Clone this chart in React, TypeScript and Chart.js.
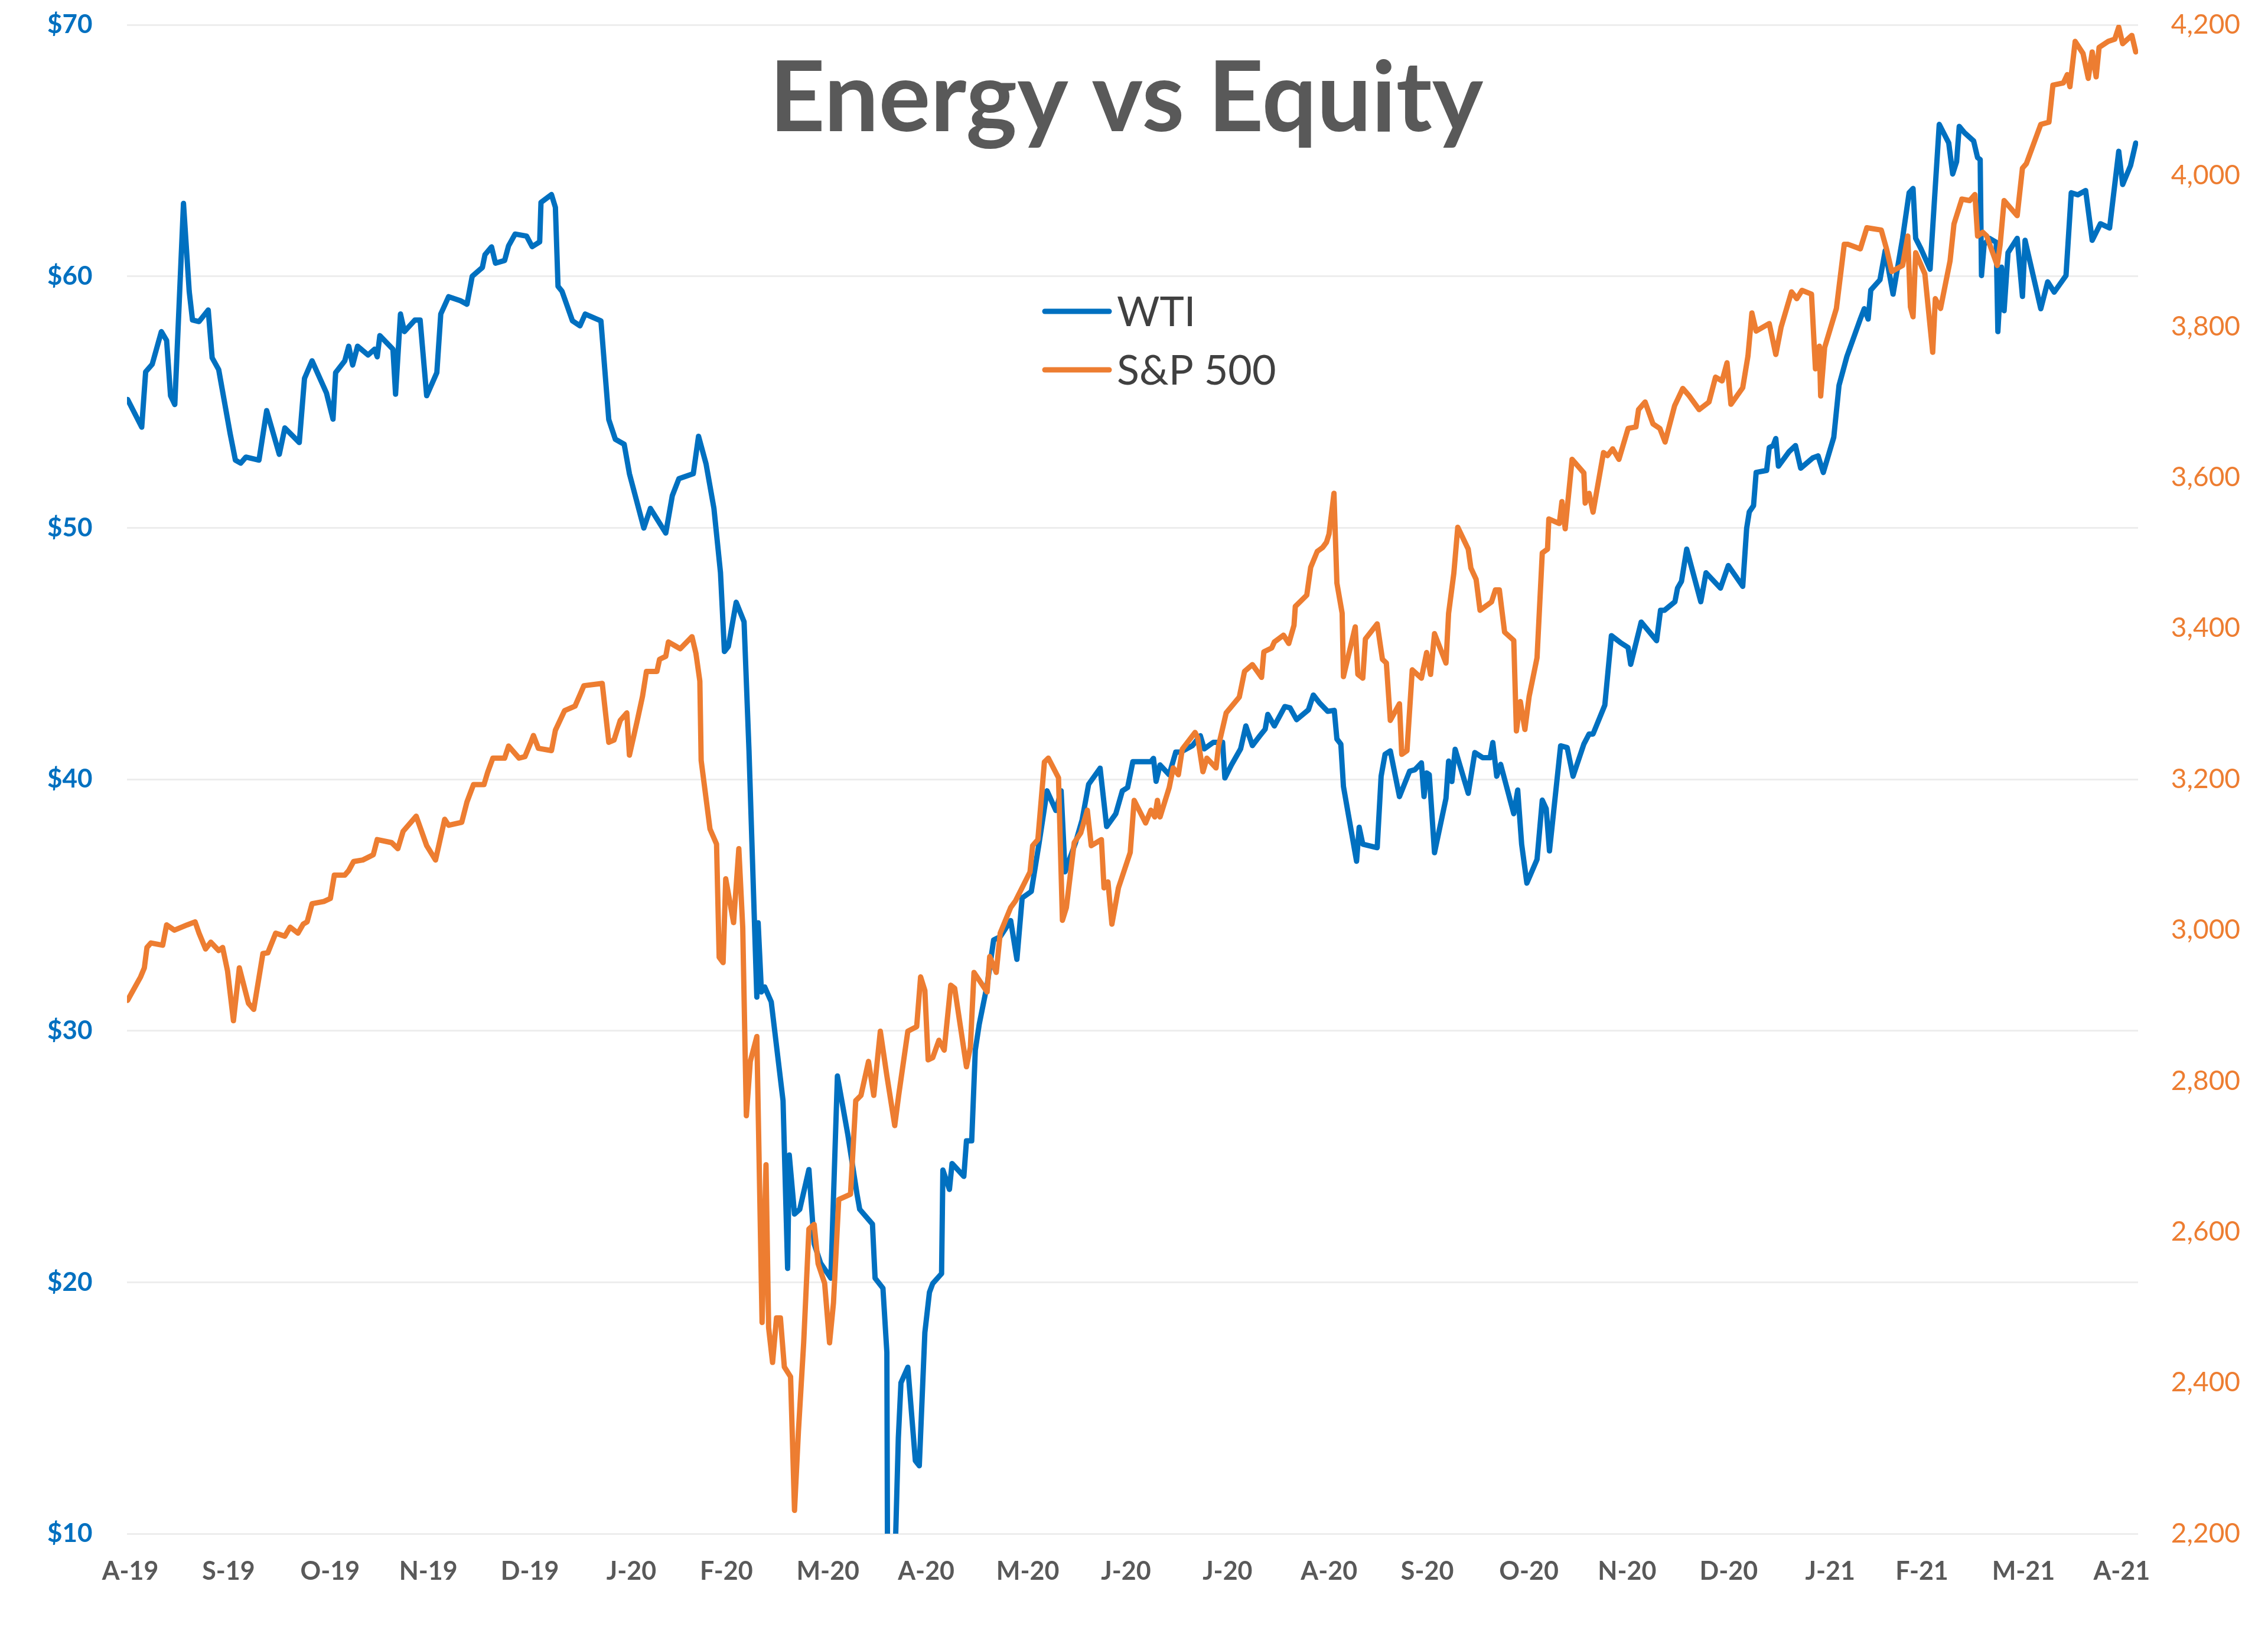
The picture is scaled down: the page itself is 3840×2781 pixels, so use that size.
import { useEffect, useRef } from "react";
import { Chart, registerables } from "chart.js";

Chart.register(...registerables);

// ---------- data ----------
const TITLE = "Energy vs Equity";
const SERIES_NAMES = ["WTI", "S&P 500"];

// x values are days counted from the "A-19" tick
const X_TICK_DAYS = [0, 30, 61, 91, 122, 153, 182, 213, 243, 274, 304, 335, 366, 396, 427, 457, 488, 519, 547, 578, 608];
const X_TICK_LABELS = ["A-19", "S-19", "O-19", "N-19", "D-19", "J-20", "F-20", "M-20", "A-20", "M-20", "J-20", "J-20", "A-20", "S-20", "O-20", "N-20", "D-20", "J-21", "F-21", "M-21", "A-21"];

const WTI_DAYS = [
  -0.8, 3.5, 4.7, 6.7, 9.5, 11.1, 12.3, 13.6, 16.25, 18.0, 19.0, 21.0, 23.8, 25.0, 27.0, 30.5, 32.1, 33.7, 35.3, 39.3,
  41.65, 45.5, 47.2, 51.6, 53.2, 55.5, 59.9, 61.9, 62.7, 65.5, 66.7, 67.9, 69.4, 72.6, 74.6, 75.4, 76.2, 80.2, 81.0, 82.5,
  83.7, 86.9, 88.5, 90.5, 93.6, 94.8, 97.2, 100.8, 102.8, 104.4, 107.5, 108.3, 110.3, 111.5, 114.3, 115.5, 117.5, 121.0, 122.7, 125.0,
  125.4, 128.6, 129.8, 130.6, 131.8, 135.0, 137.3, 138.9, 143.7, 146.1, 148.1, 150.8, 152.4, 156.8, 158.8, 163.5, 165.5, 167.5, 171.9, 173.5,
  175.8, 178.2, 180.2, 181.4, 182.6, 185.0, 187.4, 188.9, 191.3, 191.7, 192.7, 193.7, 195.7, 199.3, 200.7, 201.2, 202.8, 204.4, 207.2, 208.8,
  210.8, 213.9, 215.9, 219.1, 221.9, 222.7, 226.6, 227.4, 229.8, 231.0, 232.3, 233.7, 234.5, 235.3, 237.4, 239.7, 240.9, 242.6, 244.0, 245.0,
  247.7, 248.1, 250.1, 250.9, 254.5, 255.3, 256.9, 258.0, 259.2, 261.6, 263.6, 265.6, 268.8, 270.7, 272.3, 275.1, 277.5, 279.9, 282.6, 284.2,
  285.4, 288.6, 290.6, 292.6, 296.1, 298.1, 300.9, 302.9, 304.5, 306.1, 311.6, 312.4, 313.2, 314.4, 317.2, 319.2, 320.7, 324.3, 326.7, 327.9,
  330.7, 333.5, 334.2, 336.2, 339.0, 340.6, 342.6, 344.9, 346.5, 347.3, 349.3, 352.5, 354.1, 356.1, 359.7, 361.2, 363.2, 365.6, 367.6, 368.4,
  369.6, 370.4, 374.4, 375.2, 376.3, 380.7, 381.9, 383.1, 384.7, 387.5, 390.6, 392.2, 394.2, 395.0, 395.8, 396.6, 398.2, 401.7, 402.5, 403.5,
  404.5, 408.5, 410.5, 412.9, 415.2, 416.0, 417.2, 418.4, 422.4, 423.6, 424.8, 426.4, 429.5, 431.1, 432.3, 433.3, 436.7, 438.7, 440.5, 443.8,
  445.4, 446.6, 450.2, 452.2, 454.9, 457.3, 458.1, 461.3, 466.0, 467.2, 468.4, 471.6, 472.4, 473.6, 475.2, 479.5, 481.1, 485.5, 487.9, 492.3,
  493.5, 494.3, 495.6, 496.4, 499.6, 500.4, 501.6, 502.4, 503.2, 506.4, 508.4, 510.0, 513.7, 515.3, 516.9, 520.1, 521.7, 524.1, 528.2, 529.4,
  530.6, 531.4, 534.2, 535.8, 536.6, 538.2, 541.1, 543.1, 544.3, 545.1, 546.7, 549.5, 552.3, 555.2, 556.4, 557.6, 558.4, 560.0, 562.8, 564.0,
  564.8, 565.2, 566.0, 567.6, 569.7, 570.2, 571.3, 572.1, 573.3, 576.1, 577.7, 578.5, 583.3, 585.4, 587.4, 591.0, 592.6, 594.6, 597.0, 599.0,
  601.5, 604.3, 607.1, 608.3, 610.7, 612.3,
];
const WTI_PRICES = [
  55.1, 54.0, 56.2, 56.5, 57.8, 57.45, 55.25, 54.9, 62.9, 59.4, 58.26, 58.2, 58.66, 56.76, 56.29, 53.74, 52.69, 52.57, 52.81, 52.69,
  54.66, 52.92, 53.97, 53.39, 55.94, 56.64, 55.36, 54.32, 56.17, 56.64, 57.22, 56.47, 57.22, 56.87, 57.1, 56.8, 57.64, 57.1, 55.31, 58.5,
  57.8, 58.26, 58.26, 55.25, 56.17, 58.5, 59.19, 59.03, 58.89, 60.0, 60.35, 60.86, 61.17, 60.52, 60.63, 61.21, 61.68, 61.6, 61.18, 61.37,
  62.94, 63.25, 62.74, 59.6, 59.41, 58.23, 58.03, 58.5, 58.23, 54.3, 53.52, 53.32, 52.15, 49.99, 50.77, 49.79, 51.28, 51.95, 52.15, 53.64,
  52.54, 50.77, 48.22, 45.08, 45.28, 47.04, 46.26, 41.16, 31.34, 34.29, 31.54, 31.74, 31.15, 27.22, 20.55, 25.06, 22.71, 22.9, 24.48, 21.53,
  20.75, 20.16, 28.2, 25.85, 23.49, 22.9, 22.31, 20.16, 19.76, 17.21, -37.6, 10.0, 13.8, 16.0, 16.62, 12.9, 12.7, 18.0, 19.6, 19.95,
  20.34, 24.46, 23.69, 24.72, 24.21, 25.62, 25.62, 29.23, 30.26, 31.81, 33.61, 33.74, 34.38, 32.84, 35.28, 35.54, 37.48, 39.54, 38.76, 39.54,
  36.32, 37.48, 38.38, 39.8, 40.44, 38.12, 38.63, 39.54, 39.67, 40.7, 40.7, 40.83, 39.92, 40.57, 40.18, 41.08, 41.08, 41.34, 41.73, 41.21,
  41.47, 41.47, 40.05, 40.57, 41.21, 42.12, 41.34, 41.73, 41.99, 42.58, 42.12, 42.89, 42.84, 42.37, 42.76, 43.35, 43.02, 42.7, 42.74, 41.6,
  41.4, 39.71, 36.74, 38.09, 37.42, 37.28, 40.12, 40.99, 41.13, 39.31, 40.32, 40.38, 40.65, 39.31, 40.25, 40.18, 37.08, 39.24, 40.72, 39.91,
  41.19, 39.44, 41.06, 40.86, 40.86, 41.46, 40.12, 40.59, 38.63, 39.57, 37.42, 35.87, 36.81, 39.17, 38.83, 37.15, 41.33, 41.26, 40.12, 41.4,
  41.8, 41.8, 42.95, 45.71, 45.44, 45.24, 44.57, 46.25, 45.51, 46.72, 46.72, 47.06, 47.6, 47.87, 49.15, 47.06, 48.21, 47.6, 48.5, 47.67,
  49.98, 50.63, 50.88, 52.2, 52.28, 53.19, 53.27, 53.55, 52.45, 53.02, 53.27, 52.37, 52.78, 52.86, 52.2, 53.6, 55.66, 56.81, 58.3, 58.71,
  58.3, 59.45, 59.86, 61.02, 60.44, 59.29, 61.51, 63.32, 63.49, 61.51, 61.1, 60.28, 66.04, 65.3, 64.07, 64.56, 65.96, 65.71, 65.38, 64.72,
  64.64, 60.03, 61.26, 61.51, 61.35, 57.8, 60.36, 58.63, 60.94, 61.51, 59.2, 61.43, 58.71, 59.78, 59.37, 60.03, 63.32, 63.24, 63.41, 61.43,
  62.09, 61.92, 64.97, 63.65, 64.4, 65.3,
];

const SPX_DAYS = [
  -0.8, 3.15, 4.3, 5.1, 6.3, 9.9, 11.1, 13.5, 17.4, 19.8, 21.0, 23.0, 24.6, 27.0, 28.2, 29.7, 31.5, 33.3, 36.1, 37.7,
  40.5, 42.0, 44.4, 47.2, 48.8, 51.2, 52.8, 54.0, 55.5, 59.1, 61.1, 62.3, 65.5, 66.7, 68.2, 71.0, 74.2, 75.4, 79.8, 81.7,
  83.3, 87.3, 90.5, 93.2, 96.0, 97.2, 101.2, 102.8, 104.8, 108.0, 109.1, 110.7, 114.3, 115.5, 118.7, 120.5, 122.3, 123.1, 124.6, 128.6,
  129.8, 132.6, 135.8, 138.5, 144.1, 146.1, 147.7, 149.6, 151.6, 152.4, 154.8, 156.4, 157.6, 160.8, 161.6, 163.5, 164.3, 166.7, 167.9, 171.5,
  172.7, 173.9, 174.3, 177.0, 179.0, 179.8, 181.0, 181.8, 184.2, 185.8, 187.0, 188.1, 189.3, 191.3, 192.9, 194.1, 194.9, 196.1, 197.3, 198.5,
  199.7, 201.6, 202.8, 204.0, 205.6, 207.2, 208.8, 210.0, 212.0, 213.5, 214.7, 216.3, 219.9, 221.5, 223.1, 225.4, 227.0, 229.0, 231.0, 233.4,
  234.6, 237.4, 240.1, 241.3, 242.6, 243.6, 245.0, 246.9, 248.5, 250.5, 251.7, 255.3, 256.5, 257.6, 261.6, 262.4, 264.4, 265.6, 268.8, 270.3,
  274.7, 275.5, 277.1, 279.1, 280.3, 283.4, 284.6, 285.8, 288.2, 290.2, 292.2, 293.4, 296.5, 297.3, 298.5, 299.7, 301.7, 305.3, 306.5, 310.0,
  311.6, 312.8, 313.6, 314.4, 317.2, 318.4, 320.0, 321.2, 325.1, 325.9, 327.5, 328.7, 331.5, 332.3, 334.6, 338.6, 340.2, 342.6, 345.4, 346.1,
  348.5, 349.3, 352.1, 353.7, 355.3, 355.7, 359.2, 360.4, 362.4, 364.0, 365.2, 366.0, 367.5, 368.4, 370.0, 370.4, 374.0, 374.8, 376.3, 377.1,
  380.7, 382.3, 383.5, 384.7, 387.5, 388.2, 389.8, 391.4, 394.2, 395.8, 397.0, 398.2, 401.7, 402.5, 404.1, 405.3, 408.5, 409.3, 410.9, 412.1,
  415.6, 416.8, 418.0, 419.6, 422.4, 423.2, 424.4, 425.8, 427.1, 429.5, 431.1, 432.7, 433.1, 436.3, 437.1, 438.1, 440.2, 443.8, 444.2, 445.4,
  446.6, 449.8, 451.0, 452.6, 454.5, 457.3, 459.7, 460.5, 462.5, 464.9, 467.0, 468.6, 471.5, 474.0, 476.0, 479.0, 482.0, 484.0, 486.0, 487.5,
  488.7, 492.3, 493.9, 495.1, 496.4, 500.4, 502.4, 504.0, 507.2, 508.8, 510.4, 513.3, 514.5, 515.7, 516.1, 517.3, 520.9, 523.3, 524.5, 528.2,
  530.2, 534.6, 536.2, 537.8, 541.1, 542.7, 543.5, 544.3, 545.1, 547.9, 550.3, 551.1, 552.7, 555.6, 556.8, 559.2, 561.6, 563.2, 564.0, 565.6,
  566.8, 570.0, 570.9, 572.1, 576.1, 577.7, 578.9, 583.3, 585.8, 587.0, 590.2, 591.4, 592.2, 593.8, 596.2, 597.8, 599.0, 600.2, 601.1, 603.9,
  605.9, 607.1, 608.3, 611.1, 612.3,
];
const SPX_LEVELS = [
  2907, 2938, 2950, 2977, 2983, 2980, 3007, 3000, 3007, 3011, 2996, 2975, 2984, 2973, 2977, 2946, 2880, 2950, 2903, 2895,
  2969, 2970, 2996, 2992, 3004, 2996, 3008, 3011, 3035, 3038, 3042, 3073, 3073, 3079, 3091, 3093, 3100, 3120, 3116, 3108,
  3131, 3151, 3112, 3093, 3147, 3139, 3143, 3170, 3193, 3193, 3209, 3228, 3228, 3244, 3228, 3230, 3249, 3258, 3241, 3238,
  3265, 3291, 3297, 3324, 3327, 3249, 3252, 3278, 3288, 3232, 3278, 3310, 3343, 3343, 3359, 3363, 3382, 3376, 3373, 3389,
  3367, 3330, 3225, 3134, 3114, 2964, 2957, 3068, 3010, 3108, 3003, 2754, 2826, 2859, 2480, 2689, 2473, 2427, 2486, 2486,
  2421, 2408, 2231, 2336, 2453, 2604, 2610, 2558, 2532, 2453, 2506, 2643, 2650, 2774, 2781, 2826, 2781, 2866, 2807, 2741,
  2781, 2866, 2872, 2938, 2920, 2828, 2831, 2854, 2841, 2927, 2923, 2819, 2845, 2944, 2918, 2965, 2944, 2996, 3030, 3039,
  3077, 3112, 3120, 3223, 3228, 3202, 3013, 3030, 3116, 3129, 3159, 3112, 3120, 3056, 3064, 3008, 3056, 3103, 3172, 3142,
  3159, 3150, 3172, 3150, 3189, 3215, 3206, 3240, 3262, 3255, 3210, 3228, 3215, 3245, 3288, 3309, 3343, 3352, 3335, 3369,
  3374, 3382, 3391, 3380, 3404, 3429, 3444, 3481, 3502, 3507, 3514, 3525, 3579, 3460, 3420, 3336, 3402, 3339, 3334, 3386,
  3406, 3359, 3354, 3278, 3300, 3233, 3238, 3345, 3334, 3368, 3339, 3393, 3354, 3420, 3473, 3534, 3505, 3480, 3465, 3424,
  3435, 3451, 3451, 3395, 3384, 3264, 3303, 3266, 3310, 3361, 3500, 3505, 3545, 3539, 3568, 3532, 3624, 3606, 3566, 3579,
  3554, 3633, 3629, 3638, 3624, 3665, 3667, 3690, 3700, 3671, 3665, 3647, 3695, 3718, 3708, 3690, 3700, 3733, 3728, 3752,
  3697, 3719, 3761, 3818, 3794, 3804, 3763, 3799, 3846, 3837, 3848, 3843, 3744, 3774, 3708, 3772, 3824, 3909, 3909, 3903,
  3931, 3928, 3903, 3873, 3881, 3920, 3826, 3813, 3898, 3870, 3766, 3837, 3824, 3887, 3936, 3969, 3967, 3975, 3920, 3925,
  3920, 3881, 3909, 3967, 3947, 4010, 4016, 4068, 4071, 4120, 4123, 4134, 4118, 4178, 4162, 4129, 4164, 4131, 4170, 4178,
  4181, 4197, 4175, 4186, 4164,
];

const WTI_AXIS = { min: 10, max: 70, step: 10 };
const SPX_AXIS = { min: 2200, max: 4200, step: 200 };
const X_RANGE = { min: -1, max: 613 };

// ---------- styles ----------
const BLUE = "#0070C0";
const ORANGE = "#ED7D31";
const GREY = "#595959";
const FONT = "Lato, 'Open Sans', sans-serif";

function fitSize(text: string, weight: string, targetWidth: number): number {
  const c = document.createElement("canvas").getContext("2d")!;
  c.font = `${weight} 100px ${FONT}`;
  const w = c.measureText(text).width;
  return Math.round((100 * targetWidth) / w);
}

export default function App() {
  const ref = useRef<HTMLCanvasElement | null>(null);

  useEffect(() => {
    document.body.style.margin = "0";
    const canvas = ref.current!;
    const titleSize = fitSize(TITLE, "bold", 1205);
    const legendSize = fitSize(SERIES_NAMES[1], "normal", 270);
    const leftTickSize = fitSize("$70", "bold", 77);
    const rightTickSize = fitSize("4,200", "normal", 117);
    const xTickSize = fitSize("A-19", "bold", 96);

    const overlay = {
      id: "overlayText",
      afterDatasetsDraw(chart: any) {
        const ctx = chart.ctx as CanvasRenderingContext2D;
        ctx.save();
        ctx.font = `bold ${titleSize}px ${FONT}`;
        ctx.fillStyle = GREY;
        ctx.textAlign = "center";
        ctx.textBaseline = "alphabetic";
        ctx.fillText(TITLE, 1907, 222);

        const rows = [
          { name: SERIES_NAMES[0], color: BLUE, y: 527 },
          { name: SERIES_NAMES[1], color: ORANGE, y: 626 },
        ];
        ctx.lineWidth = 9;
        ctx.lineCap = "round";
        ctx.font = `normal ${legendSize}px ${FONT}`;
        ctx.textAlign = "left";
        ctx.textBaseline = "middle";
        for (const r of rows) {
          ctx.strokeStyle = r.color;
          ctx.beginPath();
          ctx.moveTo(1769, r.y);
          ctx.lineTo(1878, r.y);
          ctx.stroke();
          ctx.fillStyle = "#404040";
          ctx.fillText(r.name, 1891, r.y + 2);
        }
        ctx.restore();
      },
    };

    const chart = new Chart(canvas, {
      type: "line",
      data: {
        datasets: [
          {
            label: SERIES_NAMES[0],
            data: WTI_DAYS.map((d, i) => ({ x: d, y: WTI_PRICES[i] })),
            borderColor: BLUE,
            backgroundColor: BLUE,
            borderWidth: 9,
            pointRadius: 0,
            tension: 0,
            borderJoinStyle: "round",
            borderCapStyle: "round",
            yAxisID: "y",
            order: 1,
          },
          {
            label: SERIES_NAMES[1],
            data: SPX_DAYS.map((d, i) => ({ x: d, y: SPX_LEVELS[i] })),
            borderColor: ORANGE,
            backgroundColor: ORANGE,
            borderWidth: 9,
            pointRadius: 0,
            tension: 0,
            borderJoinStyle: "round",
            borderCapStyle: "round",
            yAxisID: "y1",
            order: 0,
          },
        ],
      },
      options: {
        responsive: false,
        animation: false,
        devicePixelRatio: 1,
        layout: { padding: { top: 42, left: 80, right: 47, bottom: 0 } },
        plugins: {
          legend: { display: false },
          title: { display: false },
          tooltip: { enabled: false },
        },
        scales: {
          x: {
            type: "linear",
            min: X_RANGE.min,
            max: X_RANGE.max,
            grid: { display: false },
            border: { display: false },
            afterBuildTicks: (axis: any) => {
              axis.ticks = X_TICK_DAYS.map((v) => ({ value: v }));
            },
            afterFit: (axis: any) => {
              axis.height = 185;
            },
            ticks: {
              autoSkip: false,
              maxRotation: 0,
              minRotation: 0,
              padding: 30,
              color: GREY,
              font: { family: FONT, size: xTickSize, weight: "bold" },
              callback: (_v: any, i: number) => X_TICK_LABELS[i],
            },
          },
          y: {
            position: "left",
            min: WTI_AXIS.min,
            max: WTI_AXIS.max,
            grid: { color: "#ededed", lineWidth: 3, drawTicks: false },
            border: { display: false },
            afterFit: (axis: any) => {
              axis.width = 135;
            },
            ticks: {
              stepSize: WTI_AXIS.step,
              padding: 0,
              crossAlign: "far",
              color: BLUE,
              font: { family: FONT, size: leftTickSize, weight: "bold" },
              callback: (v: any) => "$" + v,
            },
          },
          y1: {
            position: "right",
            min: SPX_AXIS.min,
            max: SPX_AXIS.max,
            grid: { drawOnChartArea: false, drawTicks: false },
            border: { display: false },
            afterFit: (axis: any) => {
              axis.width = 173;
            },
            ticks: {
              stepSize: SPX_AXIS.step,
              padding: 0,
              crossAlign: "far",
              color: ORANGE,
              font: { family: FONT, size: rightTickSize, weight: "normal" },
              callback: (v: any) => Number(v).toLocaleString("en-US"),
            },
          },
        },
      },
      plugins: [overlay],
    } as any);

    return () => chart.destroy();
  }, []);

  return (
    <canvas
      ref={ref}
      width={3840}
      height={2781}
      style={{ display: "block", width: 3840, height: 2781 }}
    />
  );
}
